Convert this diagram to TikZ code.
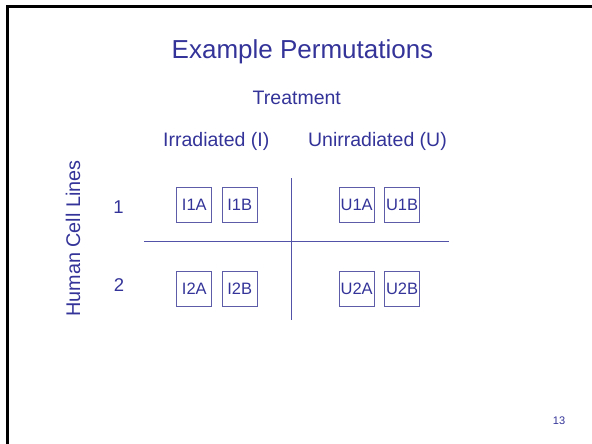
\documentclass[tikz,border=0pt]{standalone}
\usepackage{fontspec}
\setmainfont{Liberation Sans}
\usetikzlibrary{positioning}
\definecolor{Tc}{HTML}{333399}
\definecolor{Bc}{HTML}{5C5CA8}

\begin{document}
\begin{tikzpicture}[x=1pt, y=-1pt, node distance=48.5pt and 9.5pt,
    txt/.style={text=Tc, anchor=base, inner sep=0pt},
    smp/.style={draw=Bc, line width=0.9pt, text=Tc, minimum size=35pt,
      inner sep=0pt, font=\fontsize{16.5}{18}\selectfont},
    grid/.style={draw=Tc!85, line width=1pt}]
  \useasboundingbox (0,0) rectangle (592,444);
  % slide frame
  \draw[line width=2.6pt] (7.3,444) -- (7.3,6.3) -- (592,6.3);
  % headings
  \node[txt, font=\fontsize{26}{30}\selectfont] (title) at (302.5,59) {Example Permutations};
  \node[txt, font=\fontsize{19.5}{22}\selectfont] (treat) at (296.8,105) {Treatment};
  \node[txt, font=\fontsize{19.5}{22}\selectfont] (irr) at (216.3,146.7) {Irradiated (I)};
  \node[txt, font=\fontsize{19.5}{22}\selectfont] (unirr) at (377.5,146.7) {Unirradiated (U)};
  \node[txt, font=\fontsize{19.8}{22}\selectfont, rotate=90] (lines) at (80,238.5) {Human Cell Lines};
  \node[txt, font=\fontsize{18.5}{21}\selectfont] (one) at (118.5,213.3) {1};
  \node[txt, font=\fontsize{18.5}{21}\selectfont] (two) at (119,291.7) {2};
  % samples
  \node[smp] (I1A) at (194.3,204.8) {I1A};
  \node[smp, right=of I1A] (I1B) {I1B};
  \node[smp] (U1A) at (356.7,204.8) {U1A};
  \node[smp, right=of U1A] (U1B) {U1B};
  \node[smp, below=of I1A] (I2A) {I2A};
  \node[smp, below=of I1B] (I2B) {I2B};
  \node[smp, below=of U1A] (U2A) {U2A};
  \node[smp, below=of U1B] (U2B) {U2B};
  % cross
  \coordinate (vtop) at (291,178);
  \coordinate (vbot) at (291,320);
  \coordinate (hl) at (144,241.7);
  \coordinate (hr) at (449,241.7);
  \draw[grid] (vtop) -- (vbot);
  \draw[grid] (hl) -- (hr);
  \node[txt, font=\fontsize{11}{13}\selectfont] (page) at (559,424) {13};
\end{tikzpicture}
\end{document}
